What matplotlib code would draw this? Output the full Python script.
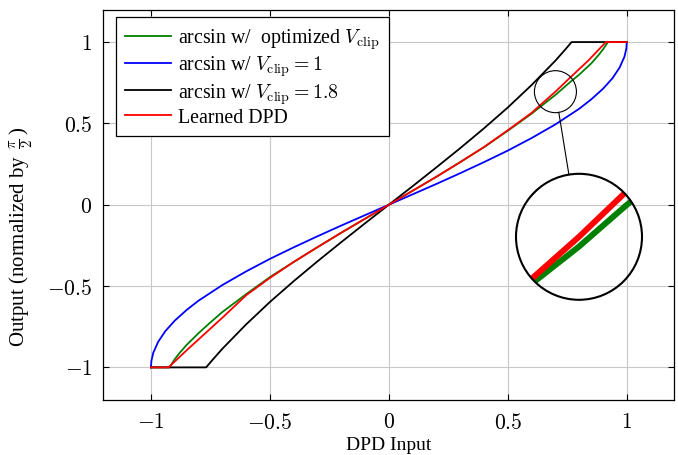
"""Arcsin DPD curves vs learned DPD, with a circular spy inset"""

import matplotlib
matplotlib.use("Agg")
import matplotlib.pyplot as plt
from matplotlib.patches import Circle
from matplotlib.lines import Line2D
from matplotlib.transforms import IdentityTransform

plt.rcParams["font.family"] = ["Liberation Serif", "DejaVu Serif"]
plt.rcParams["mathtext.fontset"] = "cm"

# values
green_x = [-1.0, -0.922, -0.9, -0.88, -0.85, -0.8, -0.755, -0.7, -0.6, -0.5, -0.4, -0.3, -0.2, -0.1, 0.0,
           0.1, 0.2, 0.3, 0.4, 0.5, 0.6, 0.7, 0.765, 0.8, 0.85, 0.88, 0.9, 0.921, 1.0]
green_y = [-1.0, -1.0, -0.95, -0.912, -0.862, -0.79, -0.73, -0.66, -0.55, -0.445, -0.352, -0.261, -0.172, -0.086, 0.0,
           0.086, 0.172, 0.262, 0.354, 0.455, 0.56, 0.675, 0.758, 0.80, 0.868, 0.918, 0.955, 1.0, 1.0]

blue_x = [-1.0, -0.998, -0.99, -0.97, -0.94, -0.9, -0.85, -0.8, -0.7, -0.6, -0.5, -0.4, -0.3, -0.2, -0.1, 0.0,
          0.1, 0.2, 0.3, 0.4, 0.5, 0.6, 0.7, 0.8, 0.85, 0.9, 0.94, 0.97, 0.99, 0.998, 1.0]
blue_y = [-1.0, -0.96, -0.91, -0.844, -0.778, -0.713, -0.647, -0.59, -0.494, -0.41, -0.333, -0.262, -0.194, -0.128, -0.064, 0.0,
          0.064, 0.128, 0.194, 0.262, 0.333, 0.41, 0.494, 0.59, 0.647, 0.713, 0.778, 0.844, 0.91, 0.96, 1.0]

black_x = [-1.0, -0.768, -0.74, -0.7, -0.6, -0.5, -0.4, -0.3, -0.2, -0.1, 0.0,
           0.1, 0.2, 0.3, 0.4, 0.5, 0.6, 0.7, 0.74, 0.768, 1.0]
black_y = [-1.0, -1.0, -0.952, -0.886, -0.736, -0.598, -0.47, -0.348, -0.23, -0.114, 0.0,
           0.114, 0.23, 0.348, 0.47, 0.598, 0.736, 0.886, 0.952, 1.0, 1.0]

red_x = [-1.0, -0.926, -0.85, -0.76, -0.7, -0.6, -0.5, -0.4, -0.3, -0.2, -0.1, 0.0,
         0.1, 0.2, 0.3, 0.4, 0.5, 0.6, 0.636, 0.7, 0.76, 0.84, 0.912, 1.0]
red_y = [-1.0, -1.0, -0.895, -0.775, -0.695, -0.557, -0.45, -0.352, -0.261, -0.172, -0.086, 0.0,
         0.086, 0.172, 0.262, 0.355, 0.458, 0.565, 0.612, 0.695, 0.779, 0.889, 1.0, 1.0]

series = [
    (green_x, green_y, "#008000", r"arcsin w/  optimized $V_{\mathrm{clip}}$"),
    (blue_x, blue_y, "#0000ff", r"arcsin w/ $V_{\mathrm{clip}} = 1$"),
    (black_x, black_y, "black", r"arcsin w/ $V_{\mathrm{clip}} = 1.8$"),
    (red_x, red_y, "#ff0000", "Learned DPD"),
]

ticks = [-1, -0.5, 0, 0.5, 1]
tick_labels = ["$-1$", "$-0.5$", "$0$", "$0.5$", "$1$"]

# spy: small circle on the curves, magnified 3x in a big circle
spy_center = (0.700, 0.695)
spy_radius_px = 21
spy_zoom = 3
big_center_px = (579, 456 - 237.8)


def main():
    fig = plt.figure(figsize=(6.78, 4.56), dpi=100)
    ax = fig.add_axes([0.1524, 0.1208, 0.8423, 0.8561])

    for x, y, c, lab in series:
        ax.plot(x, y, color=c, lw=1.3, label=lab, solid_joinstyle="round")

    ax.set_xlim(-1.2, 1.2)
    ax.set_ylim(-1.2, 1.2)
    ax.set_xticks(ticks)
    ax.set_xticklabels(tick_labels)
    ax.set_yticks(ticks)
    ax.set_yticklabels(tick_labels)
    ax.tick_params(direction="in", top=True, right=True, length=4, width=0.8,
                   labelsize=15.5, pad=8)
    ax.tick_params(axis="x", pad=9.5)
    ax.grid(color="#c8c8c8", lw=0.8)
    ax.set_axisbelow(True)
    for s in ax.spines.values():
        s.set_linewidth(0.9)

    ax.set_xlabel("DPD Input", fontsize=14, va="center")
    ax.xaxis.set_label_coords(0.5, -0.113)
    ax.set_ylabel(r"Output (normalized by $\,\frac{\pi}{2}\,$)", fontsize=15, va="center")
    ax.yaxis.set_label_coords(-0.143, 0.42)

    leg = ax.legend(loc="upper left", bbox_to_anchor=(0.0217, 0.980), borderaxespad=0,
                    fontsize=14.3, handlelength=2.35, handletextpad=0.35, labelspacing=0.14,
                    borderpad=0.45, fancybox=False, framealpha=1)
    leg.get_frame().set_edgecolor("black")
    leg.get_frame().set_linewidth(0.9)

    # spy inset
    cx, cy = ax.transData.transform(spy_center)
    px_x = ax.bbox.width / 2.4
    px_y = ax.bbox.height / 2.4
    big_r = spy_radius_px * spy_zoom
    bx, by = big_center_px
    fw, fh = fig.bbox.width, fig.bbox.height
    axin = fig.add_axes([(bx - big_r) / fw, (by - big_r) / fh, 2 * big_r / fw, 2 * big_r / fh])
    axin.set_xlim(spy_center[0] - spy_radius_px / px_x, spy_center[0] + spy_radius_px / px_x)
    axin.set_ylim(spy_center[1] - spy_radius_px / px_y, spy_center[1] + spy_radius_px / px_y)
    axin.axis("off")
    clip = Circle((0.5, 0.5), 0.5, transform=axin.transAxes)
    for x, y, c, lab in series:
        ln, = axin.plot(x, y, color=c, lw=1.3 * spy_zoom * 1.1)
        ln.set_clip_path(clip)

    fig.add_artist(Circle((cx, cy), spy_radius_px, fill=False, lw=0.8, color="black",
                          transform=IdentityTransform()))
    fig.add_artist(Circle((bx, by), big_r, fill=False, lw=1.5, color="black",
                          transform=IdentityTransform()))
    dx, dy = bx - cx, by - cy
    d = (dx ** 2 + dy ** 2) ** 0.5
    fig.add_artist(Line2D([cx + dx / d * spy_radius_px, bx - dx / d * big_r],
                          [cy + dy / d * spy_radius_px, by - dy / d * big_r],
                          color="black", lw=0.8, transform=IdentityTransform()))

    fig.savefig("out.png", dpi=100)
    plt.close(fig)


if __name__ == "__main__":
    main()
